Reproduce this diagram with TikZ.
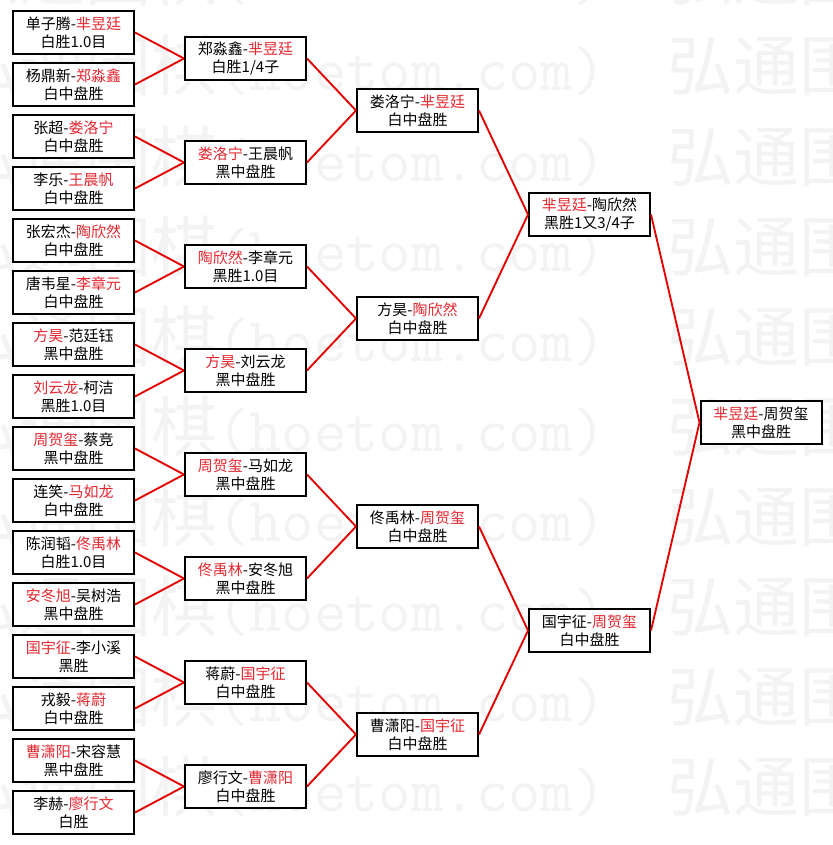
\documentclass[tikz,border=0pt]{standalone}
\usepackage{fontspec}
\setmainfont{Noto Sans CJK SC}
\definecolor{hred}{RGB}{228,40,48}
\definecolor{lred}{RGB}{228,0,0}
\definecolor{wmgray}{RGB}{243,243,243}
\newcommand{\R}[1]{\textcolor{hred}{#1}}
\begin{document}
\begin{tikzpicture}[x=0.75pt,y=-0.75pt,
  match/.style={draw=black, line width=1.5pt, fill=white,
    minimum width=90.75pt, minimum height=32.25pt, inner sep=0pt,
    align=center, font=\fontsize{11.25}{13.5}\selectfont},
  link/.style={draw=lred, line width=1.4pt},
  wmark/.style={anchor=base west, inner sep=0pt, text=wmgray,
    font=\fontsize{49.5}{50}\selectfont}]
\useasboundingbox (0,0) rectangle (832,845);
\fill[white] (0,0) rectangle (832,845);
\begin{scope}
\clip (0,0) rectangle (832,845);
\foreach \yy in {-24,66,...,876}
  \foreach \xx in {-47,667}
    \node[wmark, name={wm\xx_\yy}] at (\xx,\yy+25)
      {弘通围棋{\ttfamily\fontsize{47.1}{50}\selectfont (hoetom.com)}};
\end{scope}

% column 1
\node[match] (a1)  at (73.5, 32.5) {单子腾-\R{芈昱廷}\\白胜1.0目};
\node[match] (a2)  at (73.5, 84.5) {杨鼎新-\R{郑淼鑫}\\白中盘胜};
\node[match] (a3)  at (73.5,136.5) {张超-\R{娄洛宁}\\白中盘胜};
\node[match] (a4)  at (73.5,188.5) {李乐-\R{王晨帆}\\白中盘胜};
\node[match] (a5)  at (73.5,240.5) {张宏杰-\R{陶欣然}\\白中盘胜};
\node[match] (a6)  at (73.5,292.5) {唐韦星-\R{李章元}\\白中盘胜};
\node[match] (a7)  at (73.5,344.5) {\R{方昊}-范廷钰\\黑中盘胜};
\node[match] (a8)  at (73.5,396.5) {\R{刘云龙}-柯洁\\黑胜1.0目};
\node[match] (a9)  at (73.5,448.5) {\R{周贺玺}-蔡竞\\黑中盘胜};
\node[match] (a10) at (73.5,500.5) {连笑-\R{马如龙}\\白中盘胜};
\node[match] (a11) at (73.5,552.5) {陈润韬-\R{佟禹林}\\白胜1.0目};
\node[match] (a12) at (73.5,604.5) {\R{安冬旭}-吴树浩\\黑中盘胜};
\node[match] (a13) at (73.5,656.5) {\R{国宇征}-李小溪\\黑胜};
\node[match] (a14) at (73.5,708.5) {戎毅-\R{蒋蔚}\\白中盘胜};
\node[match] (a15) at (73.5,760.5) {\R{曹潇阳}-宋容慧\\黑中盘胜};
\node[match] (a16) at (73.5,812.5) {李赫-\R{廖行文}\\白胜};

% column 2
\node[match] (b1) at (245.5, 58.5) {郑淼鑫-\R{芈昱廷}\\白胜1/4子};
\node[match] (b2) at (245.5,162.5) {\R{娄洛宁}-王晨帆\\黑中盘胜};
\node[match] (b3) at (245.5,266.5) {\R{陶欣然}-李章元\\黑胜1.0目};
\node[match] (b4) at (245.5,370.5) {\R{方昊}-刘云龙\\黑中盘胜};
\node[match] (b5) at (245.5,474.5) {\R{周贺玺}-马如龙\\黑中盘胜};
\node[match] (b6) at (245.5,578.5) {\R{佟禹林}-安冬旭\\黑中盘胜};
\node[match] (b7) at (245.5,682.5) {蒋蔚-\R{国宇征}\\白中盘胜};
\node[match] (b8) at (245.5,786.5) {廖行文-\R{曹潇阳}\\白中盘胜};

% column 3
\node[match] (c1) at (417.5,110.5) {娄洛宁-\R{芈昱廷}\\白中盘胜};
\node[match] (c2) at (417.5,318.5) {方昊-\R{陶欣然}\\白中盘胜};
\node[match] (c3) at (417.5,526.5) {佟禹林-\R{周贺玺}\\白中盘胜};
\node[match] (c4) at (417.5,734.5) {曹潇阳-\R{国宇征}\\白中盘胜};

% column 4
\node[match] (d1) at (589.5,214.5) {\R{芈昱廷}-陶欣然\\黑胜1又3/4子};
\node[match] (d2) at (589.5,630.5) {国宇征-\R{周贺玺}\\白中盘胜};

% final
\node[match] (e1) at (761,422.5) {\R{芈昱廷}-周贺玺\\黑中盘胜};

% connectors
\foreach \i [evaluate=\i as \p using int(ceil(\i/2))] in {1,...,16}
  \draw[link] (a\i.east) -- (b\p.west);
\foreach \i [evaluate=\i as \p using int(ceil(\i/2))] in {1,...,8}
  \draw[link] (b\i.east) -- (c\p.west);
\foreach \i [evaluate=\i as \p using int(ceil(\i/2))] in {1,...,4}
  \draw[link] (c\i.east) -- (d\p.west);
\draw[link] (d1.east) -- (e1.west);
\draw[link] (d2.east) -- (e1.west);
\end{tikzpicture}
\end{document}
